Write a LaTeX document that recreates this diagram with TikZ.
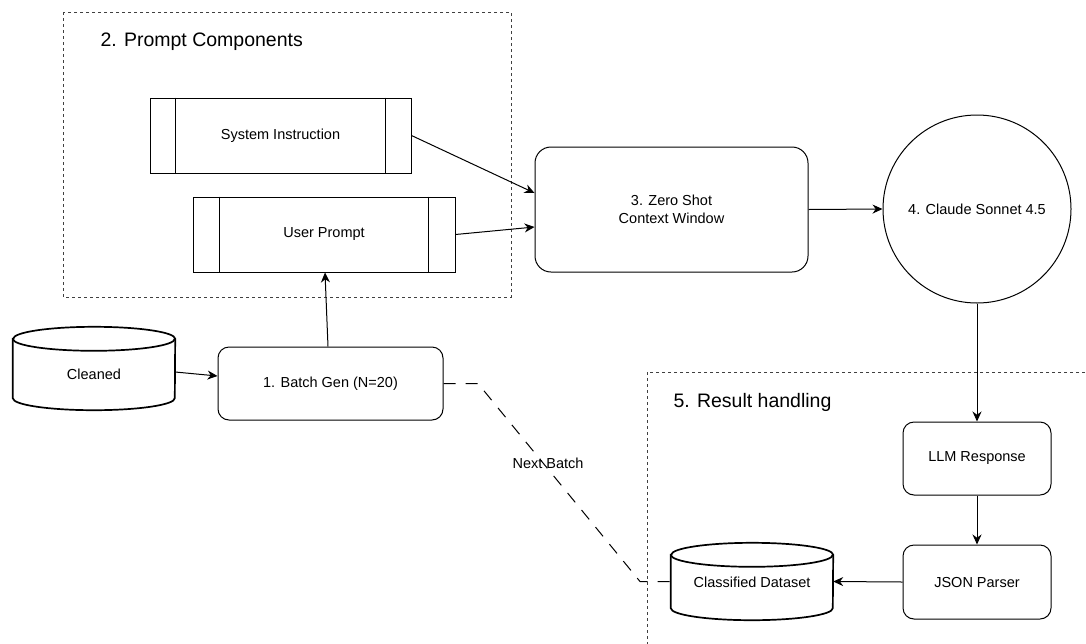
\documentclass[tikz,border=0pt]{standalone}
\usepackage{fontspec}
\setmainfont{Liberation Sans}
\usetikzlibrary{arrows.meta,calc}

\tikzset{
  body/.style={font=\fontsize{14.5}{18.5}\selectfont},
  grouplabel/.style={font=\fontsize{19.5}{23}\selectfont, anchor=west},
  groupbox/.style={draw=black!75, line width=0.8pt, dash pattern=on 3pt off 3pt},
  procbox/.style={draw, line width=1pt, rectangle, inner sep=0pt, body},
  roundbox/.style={draw, line width=1pt, rectangle, rounded corners=11pt, inner sep=0pt, body},
  dbbox/.style={rectangle, inner sep=0pt},
  cylline/.style={line width=1.7pt},
  flow/.style={line width=1pt, -{Stealth[length=10pt,width=9pt]}},
  nextedge/.style={line width=1pt, dash pattern=on 12pt off 10pt},
}

\newcommand{\sidebars}[2]{%
  \draw[line width=1pt] ([xshift=#2]#1.north west) -- ([xshift=#2]#1.south west);
  \draw[line width=1pt] ([xshift=-#2]#1.north east) -- ([xshift=-#2]#1.south east);}

% cylinder outline around a node: #1 node, #2 half width, #3 ellipse radius
\newcommand{\cylinderaround}[3]{%
  \draw[cylline] ([yshift=-#3]#1.north west)
    -- ([yshift=#3]#1.south west)
    arc[start angle=180, end angle=360, x radius=#2, y radius=#3]
    -- ([yshift=-#3]#1.north east)
    arc[start angle=0, end angle=180, x radius=#2, y radius=#3] -- cycle;
  \draw[cylline] ([yshift=-#3]#1.north west)
    arc[start angle=180, end angle=360, x radius=#2, y radius=#3];}

\begin{document}
\begin{tikzpicture}[x=1pt, y=-1pt]
\path[use as bounding box, fill=white] (0,0) rectangle (1086,643);
\clip (0,0) rectangle (1086,643);

% group frames
\draw[groupbox] (63,12) rectangle (511,297);
\node[grouplabel] (g2label) at (97,42) {2. Prompt Components};
\draw[groupbox] (647,372) rectangle (1100,660);
\node[grouplabel] (g5label) at (670,402.5) {5. Result handling};

% prompt components
\node[procbox, minimum width=261pt, minimum height=75pt] (sys) at (280.5,135.5) {System Instruction};
\sidebars{sys}{26pt}
\node[procbox, minimum width=262pt, minimum height=75pt] (user) at (324,234.5) {User Prompt};
\sidebars{user}{27pt}

% main flow
\node[roundbox, rounded corners=16pt, minimum width=273pt, minimum height=125pt, align=center] (zs) at (671.5,209.5) {3. Zero Shot\\Context Window};
\node[draw, line width=1pt, circle, minimum size=188pt, inner sep=0pt, body] (claude) at (977,209) {4. Claude Sonnet 4.5};

\node[dbbox, minimum width=162pt, minimum height=83pt] (cleaned) at (94,368.5) {};
\cylinderaround{cleaned}{81pt}{12pt}
\node[body] (cleanedtext) at (94,374) {Cleaned};

\node[roundbox, minimum width=225pt, minimum height=73pt] (batch) at (330.5,383.5) {1. Batch Gen (N=20)};

% result handling
\node[roundbox, minimum width=148pt, minimum height=73pt] (llm) at (977,458.5) {LLM Response};
\node[roundbox, minimum width=148pt, minimum height=74pt] (json) at (977,582) {JSON Parser};
\node[dbbox, minimum width=162pt, minimum height=77pt] (classified) at (752,581.5) {};
\cylinderaround{classified}{81pt}{12pt}
\node[body] (classifiedtext) at (752,582) {Classified Dataset};

% connectors
\draw[flow] ([yshift=-3.5pt]cleaned.east) -- ([yshift=7.5pt]batch.west);
\draw[flow] ([xshift=-2.5pt]batch.north) -- ([xshift=1pt]user.south);
\draw[flow] (sys.east) -- ([yshift=16.5pt]zs.west);
\draw[flow] (user.east) -- ([yshift=-17.5pt]zs.west);
\draw[flow] (zs.east) -- (claude.west);
\draw[flow] (claude.south) -- (llm.north);
\draw[flow] (llm.south) -- (json.north);
\draw[flow] (json.west) -- (classified.east);

% feedback loop to the next batch
\coordinate (nb1) at (478,383.5);
\coordinate (nb2) at (640,581.5);
\draw[nextedge] (batch.east) -- (nb1) -- (nb2) -- (classified.west);
\node[body] (nblabel) at (548,463) {Next Batch};
\end{tikzpicture}
\end{document}
